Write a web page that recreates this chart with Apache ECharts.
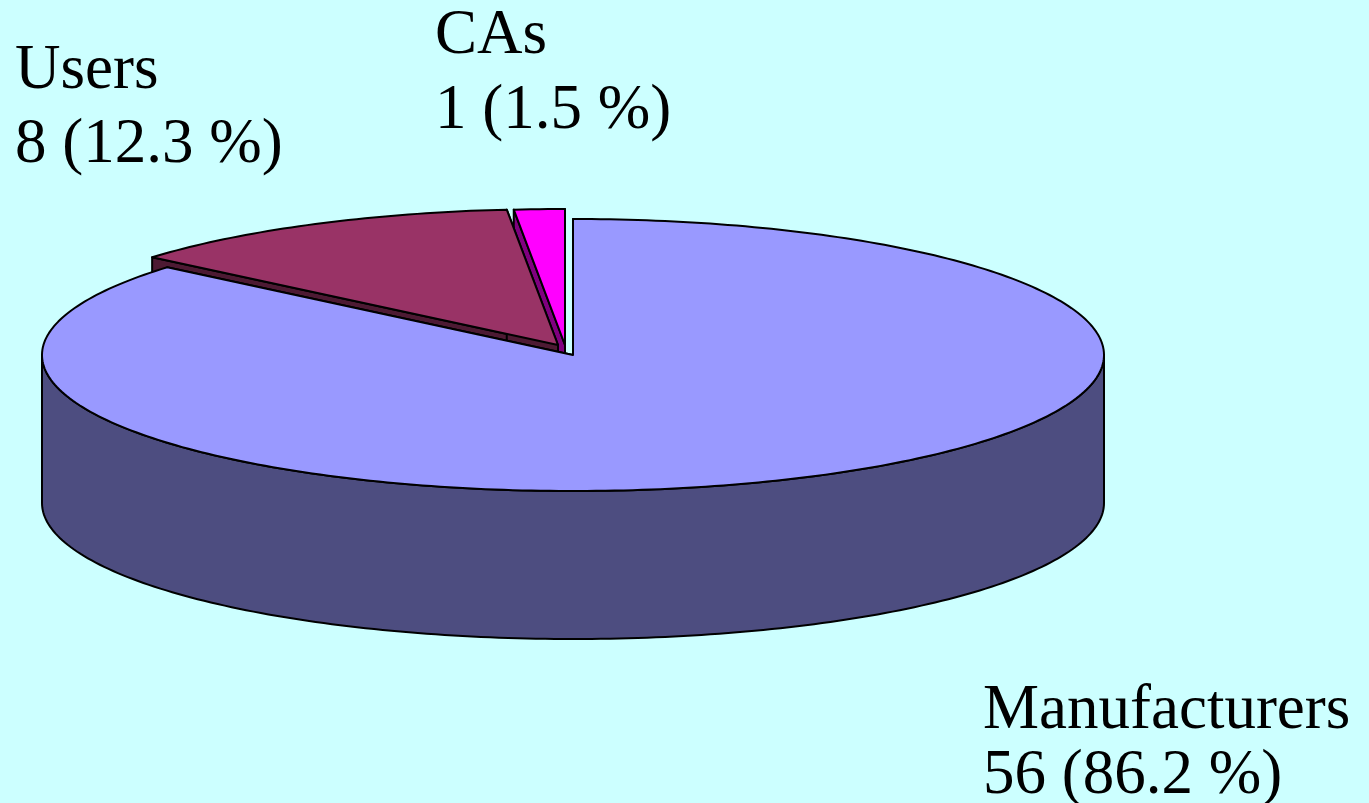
<!DOCTYPE html>
<html>
<head>
<meta charset="utf-8">
<script src="https://cdn.jsdelivr.net/npm/echarts@6/dist/echarts.min.js"></script>
<style>
html, body { margin: 0; padding: 0; background: #ccffff; }
#chart { width: 1369px; height: 803px; }
</style>
</head>
<body>
<div id="chart"></div>
<script>
// data
var names = ['Manufacturers', 'Users', 'CAs'];
var counts = [56, 8, 1];

// styles
var topColors = ['#9999ff', '#993366', '#ff00ff'];
var sideColors = ['#4d4d80', '#4d1a33', '#800080'];
var explode = { Users: [-15, -10], CAs: [-8, -10] };   // pixel offset of pulled-out slices
var pie = { cx: 573, cy: 355, rx: 531, ry: 136, depth: 148 };
// baselines of the two label lines
var labelPos = {
    Manufacturers: { x: 983, y: [728, 793] },
    Users: { x: 15, y: [88, 162] },
    CAs: { x: 435, y: [53, 128] }
};
var FONT_SIZE = 63;
var FONT = FONT_SIZE + 'px "Liberation Serif", "Times New Roman", serif';

var total = counts.reduce(function (s, v) { return s + v; }, 0);
var starts = [];
var acc = 0;
for (var k = 0; k < counts.length; k++) {
    starts.push(acc / total * 360);
    acc += counts[k];
}

function renderItem(params, api) {
    var i = params.dataIndex;
    var a0 = starts[i];
    var a1 = a0 + api.value(0) / total * 360;
    var off = explode[names[i]] || [0, 0];
    var ox = pie.cx + off[0], oy = pie.cy + off[1];
    var d = pie.depth;

    function rim(a, dy) {
        var r = a * Math.PI / 180;
        return [ox + pie.rx * Math.sin(r), oy - pie.ry * Math.cos(r) + (dy || 0)];
    }
    function arc(from, to, dy) {
        var pts = [];
        var n = Math.max(2, Math.ceil(Math.abs(to - from)));
        for (var j = 0; j <= n; j++) pts.push(rim(from + (to - from) * j / n, dy));
        return pts;
    }

    // back slices drawn first
    var mid = (a0 + a1) / 2 * Math.PI / 180;
    var base = Math.round((1 - Math.cos(mid)) * 100) * 10;
    var line = { stroke: '#000', lineWidth: 2, lineJoin: 'round' };
    var children = [];

    // radial faces
    [a0, a1].forEach(function (a) {
        var p = rim(a), q = rim(a, d);
        children.push({
            type: 'polygon', z2: base,
            shape: { points: [[ox, oy], p, q, [ox, oy + d]] },
            style: Object.assign({ fill: sideColors[i] }, line)
        });
    });

    // outer wall (front half only)
    var w0 = Math.max(a0, 90), w1 = Math.min(a1, 270);
    if (w1 > w0) {
        var pts = arc(w0, w1, 0).concat(arc(w1, w0, d));
        children.push({
            type: 'polygon', z2: base + 1,
            shape: { points: pts },
            style: Object.assign({ fill: sideColors[i] }, line)
        });
    }

    // top
    children.push({
        type: 'polygon', z2: base + 2,
        shape: { points: [[ox, oy]].concat(arc(a0, a1, 0)) },
        style: Object.assign({ fill: topColors[i] }, line)
    });

    return { type: 'group', children: children };
}

var labels = [];
names.forEach(function (n, i) {
    var pct = (counts[i] / total * 100).toFixed(1);
    var lines = [n, counts[i] + ' (' + pct + ' %)'];
    lines.forEach(function (t, j) {
        labels.push({
            type: 'text',
            x: labelPos[n].x,
            y: labelPos[n].y[j] - 0.77 * FONT_SIZE,   // baseline -> top of text box
            style: { text: t, font: FONT, fill: '#000', verticalAlign: 'top' }
        });
    });
});

var chart = echarts.init(document.getElementById('chart'));
chart.setOption({
    backgroundColor: '#ccffff',
    animation: false,
    series: [{
        type: 'custom',
        coordinateSystem: 'none',
        renderItem: renderItem,
        data: counts.map(function (v, i) { return { name: names[i], value: [v] }; })
    }],
    graphic: labels
});
</script>
</body>
</html>
